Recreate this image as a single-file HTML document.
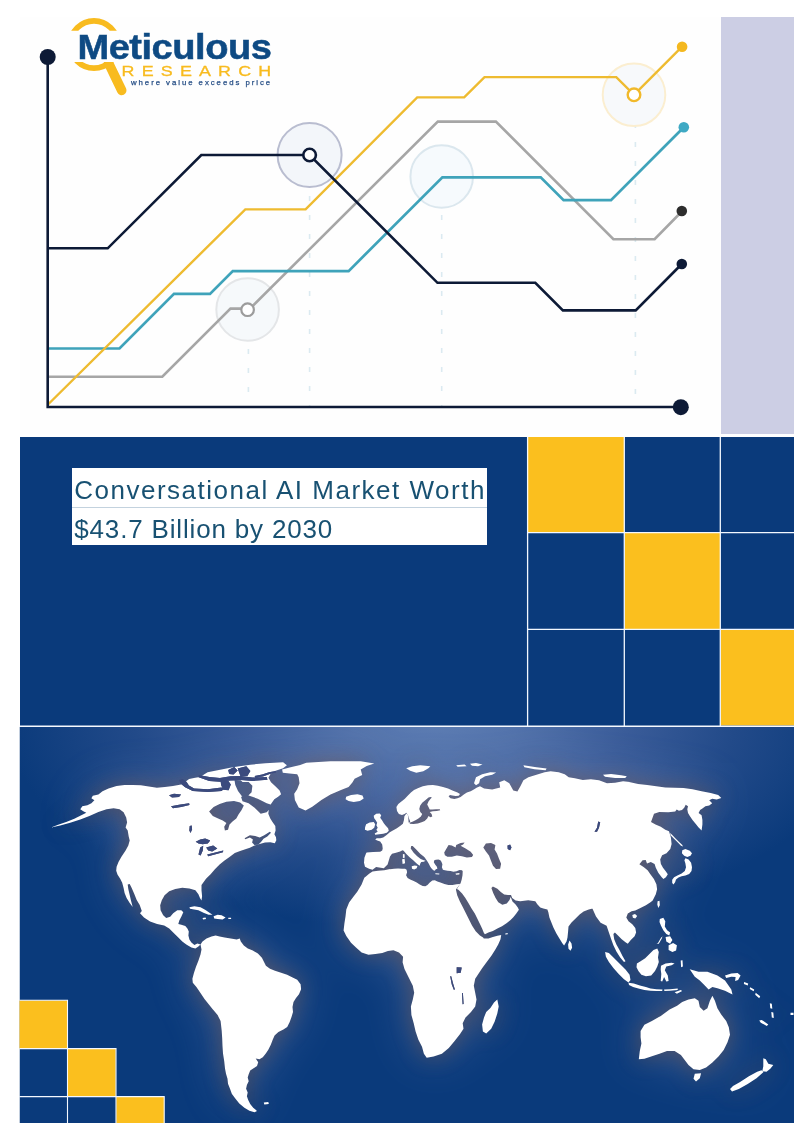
<!DOCTYPE html>
<html lang="en">
<head>
<meta charset="utf-8">
<title>Conversational AI Market Worth $43.7 Billion by 2030</title>
<style>
html,body{margin:0;padding:0;background:#fff;}
body{width:794px;height:1123px;position:relative;overflow:hidden;font-family:"Liberation Sans",sans-serif;}
.abs{position:absolute;}
#chartbg{left:20px;top:17px;width:701px;height:417px;background:#fefefe;}
#lav{left:721px;top:17px;width:73px;height:417px;background:#cccee4;}
#mid{left:20px;top:437px;width:774px;height:289px;background:#0a3a7b;}
#mapbg{left:19.5px;top:727px;width:775px;height:396px;background:#0a3a7b;}
.ttl{position:absolute;left:71.6px;width:415.7px;height:38.4px;background:#fff;color:#185172;font-size:26px;line-height:38px;white-space:nowrap;}
.ttl span{position:absolute;left:2.7px;top:3.2px;}
#sep{left:71.6px;top:506.6px;width:415.7px;height:0.9px;background:#c3d2de;}
svg{position:absolute;left:0;top:0;}
</style>
</head>
<body>
<div class="abs" id="chartbg"></div>
<div class="abs" id="lav"></div>
<div class="abs" id="mid"></div>
<div class="abs" id="mapbg"></div>
<svg width="794" height="1123" viewBox="0 0 794 1123" style="pointer-events:none">
<defs>
<radialGradient id="mg" gradientUnits="userSpaceOnUse" cx="435" cy="716" r="430" gradientTransform="translate(435,716) scale(1,0.5) translate(-435,-716)">
<stop offset="0" stop-color="#5e7eb4"/><stop offset="0.2" stop-color="#5373ab"/><stop offset="0.45" stop-color="#3a5c99"/><stop offset="0.7" stop-color="#224a89"/><stop offset="1" stop-color="#0a3a7b"/>
</radialGradient>
<filter id="glow" x="-10%" y="-10%" width="120%" height="120%"><feGaussianBlur stdDeviation="11"/></filter>
<filter id="glow2" x="-10%" y="-10%" width="120%" height="120%"><feGaussianBlur stdDeviation="24"/></filter>
<clipPath id="mc"><rect x="19.5" y="727" width="774.5" height="396"/></clipPath>
<mask id="lm" maskUnits="userSpaceOnUse" x="0" y="700" width="794" height="423">
<path d="M51.1,827.4 L58.1,824.8 L66.2,822.0 L74.3,818.8 L81.3,815.3 L86.3,812.7 L83.3,811.3 L80.3,809.3 L82.3,806.3 L87.4,805.3 L91.4,803.2 L94.4,800.2 L91.4,798.2 L92.8,795.8 L98.4,794.6 L102.5,791.2 L108.5,788.5 L116.6,786.1 L124.6,785.1 L132.7,784.9 L140.8,785.3 L148.8,786.5 L156.9,787.7 L164.9,787.1 L173.0,786.1 L181.1,784.5 L185.1,782.1 L189.1,779.1 L195.2,777.7 L200.0,777.1 L207.6,772.2 L215.1,770.7 L222.7,769.2 L230.2,767.7 L237.8,766.4 L250.4,764.7 L265.5,763.2 L283.1,762.2 L286.9,765.2 L283.1,768.2 L275.6,770.7 L270.5,774.0 L268.5,777.8 L271.0,782.3 L275.6,786.6 L279.6,790.4 L281.1,794.2 L278.1,796.7 L274.3,799.2 L271.0,804.0 L268.8,809.3 L268.3,813.8 L270.3,818.4 L272.5,822.1 L275.3,825.9 L275.6,830.5 L274.4,834.2 L276.0,837.3 L276.3,840.3 L274.8,843.3 L270.3,842.2 L265.0,842.5 L259.7,844.1 L254.4,845.6 L249.9,847.8 L245.3,849.3 L240.1,850.9 L234.8,853.1 L229.5,856.9 L224.2,860.7 L219.6,864.5 L215.1,869.0 L210.6,874.3 L206.0,878.8 L201.5,884.9 L201.5,890.2 L202.1,896.2 L201.5,900.6 L200.1,898.2 L198.4,894.2 L195.4,890.2 L189.4,888.5 L182.3,887.7 L175.3,889.1 L169.2,891.2 L164.6,895.2 L161.8,900.2 L160.2,905.3 L160.6,910.3 L163.2,915.3 L166.2,918.0 L170.2,916.8 L173.2,913.3 L177.3,910.3 L181.3,910.3 L183.3,912.3 L181.3,916.8 L179.3,920.4 L178.3,924.0 L181.3,924.8 L185.3,926.0 L187.4,928.4 L188.8,931.5 L188.4,935.5 L189.4,939.5 L191.4,942.5 L194.4,945.0 L197.4,943.6 L200.5,944.6 L198.4,946.6 L195.4,948.6 L191.4,947.6 L186.3,944.6 L182.3,941.5 L178.3,937.5 L173.2,932.5 L169.2,928.4 L164.2,925.4 L157.1,924.0 L150.1,921.4 L144.0,917.4 L140.0,913.3 L141.8,911.1 L139.7,905.0 L136.7,900.0 L134.3,893.9 L131.7,887.9 L129.7,883.9 L127.7,884.5 L128.3,888.9 L129.7,894.9 L131.1,901.0 L132.7,907.0 L129.7,903.0 L126.6,898.0 L124.6,892.9 L123.6,887.9 L122.2,882.8 L120.2,878.8 L117.6,874.8 L116.2,870.8 L116.6,866.7 L118.6,861.7 L121.6,856.6 L125.6,850.6 L128.3,845.6 L129.7,840.5 L128.7,836.5 L127.7,830.5 L125.6,827.4 L127.1,822.4 L126.2,817.4 L123.6,812.3 L119.6,809.3 L113.6,808.3 L106.5,809.3 L98.4,811.9 L89.4,815.9 L80.3,819.4 L70.2,822.8 L60.2,825.4Z M306.3,762.8 L330.5,761.3 L360.7,761.3 L374.3,763.6 L366.7,765.9 L360.7,769.6 L362.2,774.9 L354.6,778.7 L352.4,782.5 L348.6,787.0 L341.0,790.1 L330.5,794.6 L321.4,799.9 L312.3,806.7 L305.5,810.5 L298.7,807.4 L294.9,799.9 L294.2,793.8 L297.2,789.3 L299.5,783.2 L298.7,777.2 L297.2,774.2 L289.6,773.4 L282.8,772.7 L282.1,769.6 L289.6,767.4 L300.2,765.1Z M346.1,796.7 L351.1,794.9 L357.4,794.2 L362.5,795.4 L363.7,798.4 L359.9,801.0 L353.7,802.0 L348.6,801.0 L345.6,799.2Z M189.4,907.3 L194.4,906.3 L200.5,907.3 L205.5,909.9 L209.5,912.7 L212.5,914.7 L208.5,914.7 L203.5,912.7 L198.4,910.3 L192.8,909.3 L190.0,908.7Z M213.6,916.3 L217.6,914.7 L221.6,915.3 L225.6,917.4 L222.6,919.4 L217.6,919.0 L214.2,918.4Z M202.5,918.0 L205.5,917.6 L206.1,919.0 L203.1,919.4Z M228.3,917.8 L231.1,917.8 L231.1,919.0 L228.3,919.0Z M200.5,944.6 L202.5,941.5 L206.5,938.5 L211.5,936.5 L215.6,935.5 L219.6,936.5 L224.6,937.5 L230.7,938.5 L236.7,939.5 L239.7,938.5 L240.8,941.5 L243.8,945.6 L247.8,948.6 L252.8,950.6 L257.9,953.6 L261.9,957.7 L263.9,961.7 L265.9,965.7 L270.0,968.7 L275.0,970.8 L281.1,972.8 L287.1,974.8 L293.1,977.8 L297.2,979.8 L300.6,984.2 L301.1,989.3 L299.0,994.3 L296.0,998.1 L293.5,1001.9 L292.5,1006.9 L293.0,1011.9 L291.5,1017.0 L289.7,1022.0 L287.2,1027.1 L283.4,1029.6 L278.4,1032.1 L274.6,1035.4 L272.8,1039.6 L270.8,1044.7 L268.3,1049.7 L265.8,1053.5 L262.8,1057.3 L259.5,1059.3 L255.7,1058.5 L258.2,1062.3 L257.0,1066.1 L253.2,1068.6 L250.2,1070.6 L248.7,1074.2 L247.7,1077.4 L248.7,1081.2 L246.9,1085.0 L246.1,1088.8 L247.7,1092.5 L246.9,1096.3 L248.2,1100.1 L250.2,1103.9 L253.2,1107.7 L257.0,1110.9 L254.5,1112.2 L249.4,1110.7 L244.4,1107.7 L239.3,1103.4 L235.1,1098.3 L231.8,1093.8 L230.0,1088.8 L228.0,1083.7 L227.5,1078.7 L226.0,1073.7 L225.0,1068.6 L224.2,1061.1 L223.0,1053.5 L222.5,1045.9 L222.2,1038.4 L221.7,1030.8 L220.6,1021.1 L217.6,1015.1 L212.5,1009.0 L208.5,1004.0 L204.5,999.0 L200.5,992.9 L196.4,986.9 L192.8,982.8 L192.4,978.8 L194.0,972.8 L196.0,966.7 L198.4,960.7 L200.5,954.6 L201.5,949.6Z M263.8,1102.4 L268.3,1101.9 L268.8,1103.9 L264.3,1104.4Z M365.6,876.8 L369.1,873.8 L372.5,871.4 L378.1,870.8 L384.2,870.2 L390.2,869.1 L390.0,869.3 L394.0,868.8 L398.1,868.6 L402.1,868.8 L405.1,868.8 L406.6,869.8 L407.1,872.3 L406.1,875.3 L407.6,877.9 L410.2,879.4 L413.7,880.9 L416.7,882.4 L419.7,884.4 L422.7,885.9 L425.3,886.2 L427.5,884.9 L429.8,882.4 L432.3,880.4 L434.8,880.2 L437.4,881.4 L440.4,882.4 L444.4,883.9 L448.4,884.9 L452.5,884.9 L456.5,884.2 L459.5,883.9 L460.5,883.4 L455.9,889.6 L457.2,895.3 L459.9,901.4 L463.0,907.4 L466.0,913.5 L469.0,919.5 L472.0,925.6 L475.7,931.3 L479.9,935.4 L483.1,937.4 L483.8,938.4 L488.4,938.4 L492.9,936.9 L497.4,935.8 L501.2,934.9 L500.5,939.2 L498.2,944.5 L495.2,949.7 L491.4,955.8 L486.9,961.8 L482.3,967.9 L475.2,978.8 L473.8,985.8 L475.2,992.7 L476.5,999.6 L475.2,1006.5 L471.0,1012.1 L465.5,1017.6 L462.7,1023.2 L463.5,1028.7 L459.9,1034.3 L454.4,1041.2 L448.8,1048.1 L441.9,1053.7 L433.6,1056.4 L426.7,1057.8 L423.9,1053.7 L422.0,1046.7 L418.4,1039.8 L415.6,1031.5 L413.7,1023.2 L411.4,1014.9 L410.9,1006.5 L412.8,999.6 L414.2,992.7 L412.8,985.8 L408.7,977.5 L404.5,969.1 L402.6,962.2 L403.1,956.7 L399.0,952.5 L393.4,950.3 L387.9,951.1 L382.3,953.1 L375.4,953.9 L368.5,954.7 L361.6,952.5 L356.0,947.5 L351.0,942.8 L346.3,935.9 L343.6,930.4 L344.4,923.4 L345.5,916.5 L346.3,909.6 L349.1,902.6 L353.2,897.1 L357.4,891.6 L361.6,884.6 L364.3,877.7Z M497.3,999.6 L498.7,1006.5 L497.3,1013.5 L494.6,1021.8 L491.2,1028.7 L486.2,1033.4 L482.9,1031.5 L482.1,1024.6 L484.0,1017.6 L486.2,1012.1 L490.4,1007.9 L494.0,1002.4Z M372.5,869.7 L369.1,868.7 L365.0,866.7 L364.0,862.7 L364.4,857.7 L366.0,853.6 L366.6,852.5 L373.2,852.0 L380.2,851.7 L382.2,850.5 L382.7,848.4 L382.2,844.4 L380.2,841.4 L377.2,840.4 L375.2,839.4 L376.7,838.2 L380.2,838.2 L383.2,837.4 L386.3,835.3 L389.8,832.3 L393.3,830.3 L396.9,828.3 L400.4,825.8 L402.9,823.8 L403.9,820.2 L404.4,816.2 L406.4,813.4 L407.9,815.2 L408.4,819.2 L408.6,822.4 L410.2,822.6 L410.0,820.9 L409.0,818.4 L408.0,815.3 L406.4,812.7 L404.6,814.0 L402.0,815.0 L398.9,814.0 L397.0,810.9 L396.4,807.1 L398.3,803.9 L401.4,801.4 L404.6,798.9 L407.7,795.7 L410.9,792.6 L414.0,790.1 L417.8,788.2 L422.8,786.3 L427.9,785.3 L432.9,785.0 L437.9,785.7 L443.0,786.9 L448.0,788.6 L453.0,790.7 L457.5,792.6 L460.0,793.9 L458.7,795.7 L455.6,796.1 L452.4,795.4 L449.9,794.9 L448.6,796.4 L450.5,798.3 L454.3,798.9 L457.5,798.3 L460.6,797.0 L463.8,794.5 L466.9,792.6 L470.7,791.3 L473.8,789.4 L477.0,787.6 L480.0,786.3 L484.1,788.4 L492.2,789.4 L500.2,787.4 L499.2,782.3 L504.3,780.3 L509.3,783.3 L513.3,790.4 L517.4,791.4 L520.4,786.3 L523.4,780.3 L528.4,777.3 L536.5,774.7 L544.6,772.2 L550.6,771.2 L558.7,772.2 L564.7,774.3 L568.7,777.3 L574.8,778.3 L582.8,779.9 L590.9,779.3 L599.0,780.3 L607.0,783.3 L615.1,782.7 L623.1,781.3 L630.0,781.9 L629.1,782.1 L638.1,783.9 L647.2,785.1 L656.3,786.3 L665.3,787.4 L674.4,787.8 L683.5,788.1 L692.5,789.3 L701.6,791.2 L710.7,793.0 L718.2,794.9 L721.3,798.0 L716.7,799.5 L712.2,798.7 L709.2,800.2 L712.2,803.2 L709.2,805.5 L705.4,806.3 L702.4,808.5 L700.1,810.1 L698.6,813.1 L701.6,815.3 L702.4,819.9 L702.4,824.4 L701.6,830.5 L698.6,827.4 L695.6,823.7 L692.5,819.9 L689.8,816.1 L688.0,813.1 L687.3,809.3 L688.0,806.3 L685.7,804.8 L684.2,807.8 L682.0,810.1 L678.9,810.8 L676.7,809.6 L675.2,811.6 L668.4,812.3 L659.3,812.0 L654.0,813.8 L651.0,822.1 L655.5,824.4 L660.8,826.7 L665.3,829.7 L669.0,831.3 L670.9,837.6 L671.6,843.9 L670.3,848.9 L666.5,853.3 L662.1,855.2 L660.2,859.6 L660.9,864.0 L663.0,867.8 L665.9,871.6 L667.8,874.3 L665.9,877.2 L663.4,878.9 L661.5,876.9 L658.3,872.8 L655.8,867.8 L654.6,864.0 L650.8,862.1 L647.0,863.4 L645.7,860.0 L642.6,860.2 L639.4,864.3 L643.9,867.2 L647.6,870.3 L650.2,874.1 L653.9,879.1 L656.4,884.2 L657.1,889.2 L655.8,894.2 L652.7,900.5 L650.5,902.3 L645.9,905.3 L639.9,908.3 L635.3,910.6 L631.6,911.3 L627.8,913.6 L626.3,917.4 L628.5,921.2 L632.3,924.2 L635.3,928.0 L636.1,932.5 L634.6,936.3 L630.8,940.1 L627.8,943.8 L625.5,942.3 L621.7,939.3 L618.0,935.5 L614.9,932.5 L613.4,934.0 L614.2,939.3 L616.4,944.6 L619.5,949.9 L622.5,955.9 L625.5,961.2 L624.0,962.0 L620.2,957.4 L616.4,951.4 L613.4,945.3 L611.2,939.3 L608.9,932.5 L606.6,925.7 L605.1,924.9 L600.6,922.7 L596.0,916.6 L592.3,908.3 L592.7,908.4 L588.7,909.4 L583.6,911.4 L579.6,914.4 L575.6,918.4 L571.5,922.5 L568.5,926.5 L568.1,931.5 L567.5,937.6 L566.5,941.6 L564.1,945.6 L562.5,943.6 L559.4,938.6 L556.4,933.6 L553.4,927.5 L551.4,922.5 L549.4,917.4 L548.4,912.4 L547.4,909.4 L543.3,908.4 L540.3,907.4 L537.3,904.3 L535.3,901.3 L528.2,900.3 L520.2,901.3 L514.1,900.3 L515.6,900.6 L512.2,898.1 L511.0,895.0 L508.0,895.0 L504.2,894.4 L500.8,892.0 L497.4,888.7 L492.9,886.6 L491.4,888.1 L493.2,893.1 L495.6,898.1 L498.3,902.3 L502.3,904.7 L506.8,903.5 L509.5,899.9 L510.7,896.9 L512.5,901.4 L515.6,904.4 L517.8,907.4 L518.9,909.7 L516.3,913.5 L513.3,917.3 L510.3,920.3 L506.5,923.3 L502.0,926.3 L497.4,928.6 L492.9,930.9 L488.4,932.4 L484.9,934.3 L483.8,932.8 L482.3,928.9 L480.2,924.4 L477.5,918.9 L474.8,913.5 L471.4,908.2 L468.4,902.9 L465.2,897.8 L462.1,893.4 L458.4,889.7 L456.9,889.0 L460.5,883.4 L461.7,879.4 L462.5,875.3 L462.7,871.3 L462.0,870.3 L459.5,870.1 L456.5,871.3 L453.5,871.8 L450.5,871.1 L447.4,870.8 L444.9,870.3 L442.9,869.8 L441.9,867.3 L442.4,864.3 L441.4,861.7 L440.4,860.2 L438.4,859.4 L435.8,859.7 L434.3,860.2 L433.8,862.2 L435.3,864.8 L436.9,866.8 L437.4,868.8 L435.8,869.3 L434.8,870.8 L433.3,870.3 L431.8,868.8 L430.3,866.8 L428.8,863.8 L427.3,861.2 L426.1,859.4 L424.3,857.0 L420.2,853.7 L416.2,849.6 L412.7,846.1 L411.2,846.1 L410.7,848.6 L413.7,852.7 L417.2,856.2 L420.7,858.9 L423.8,860.2 L425.5,860.7 L423.8,861.7 L421.2,862.0 L420.2,863.8 L419.7,865.8 L418.2,864.8 L416.4,863.2 L413.2,860.2 L409.6,857.2 L406.1,853.7 L403.6,850.7 L402.6,850.2 L400.1,851.5 L396.0,852.7 L392.0,853.7 L390.0,856.4 L387.6,864.4 L383.8,868.2 L376.1,867.1Z M474.0,783.3 L476.0,777.3 L482.1,774.3 L490.2,772.2 L496.2,772.6 L492.2,774.7 L485.1,776.3 L480.1,779.3 L479.1,783.3 L476.0,785.3Z M523.4,765.2 L536.5,767.2 L546.6,768.6 L545.6,770.2 L534.5,769.2 L524.4,767.2Z M470.0,763.8 L476.0,763.0 L482.5,764.6 L478.1,766.2 L472.0,765.8Z M603.0,774.7 L611.1,773.9 L621.1,775.3 L626.8,776.3 L625.2,777.9 L615.1,777.9 L605.0,776.7Z M373.7,815.7 L376.2,813.7 L379.7,813.4 L381.2,815.2 L380.2,817.7 L382.0,820.2 L383.8,823.2 L385.8,825.8 L388.1,828.3 L388.8,830.8 L386.8,832.8 L383.2,833.8 L379.2,834.3 L375.2,834.8 L374.7,833.5 L377.7,831.8 L376.4,829.8 L377.7,827.8 L376.4,825.3 L377.2,822.7 L375.7,820.2 L374.2,818.2Z M365.1,827.3 L366.1,824.3 L369.6,822.4 L373.7,822.0 L375.2,824.3 L374.2,827.8 L371.7,829.8 L367.6,830.8 L364.9,829.8Z M402.1,859.2 L404.6,858.7 L405.1,863.2 L402.6,864.1Z M402.9,854.0 L404.6,854.2 L404.7,857.7 L402.9,858.0Z M411.7,866.3 L414.7,865.5 L417.4,866.1 L416.7,868.3 L414.2,869.5 L412.0,868.8Z M435.3,873.3 L439.4,873.6 L439.2,874.5 L435.5,874.3Z M455.5,873.5 L459.5,873.1 L459.3,874.5 L456.0,874.8Z M682.3,850.2 L685.4,848.9 L689.8,850.8 L692.0,853.3 L690.5,855.8 L687.3,857.1 L684.2,855.8 L681.9,853.3Z M685.4,858.3 L688.6,859.6 L691.1,862.7 L692.0,867.2 L691.5,870.9 L689.2,874.1 L685.4,875.6 L681.6,876.3 L678.5,877.6 L676.0,879.4 L675.1,882.3 L673.5,884.4 L672.2,882.9 L672.2,879.7 L674.1,877.2 L677.9,875.3 L681.6,873.5 L684.8,870.9 L686.0,867.2 L685.4,863.4 L684.4,860.2Z M657.6,901.2 L659.5,900.8 L659.8,905.3 L658.3,907.9 L657.3,904.5Z M670.1,833.1 L671.8,834.4 L675.3,838.2 L679.1,842.0 L682.3,845.1 L682.9,846.6 L681.0,845.7 L677.6,842.3 L673.8,838.6 L670.6,835.3Z M569.5,940.6 L571.5,943.6 L572.1,947.7 L570.5,950.7 L568.5,948.7 L568.1,944.6Z M632.3,915.1 L635.0,913.9 L637.2,915.9 L635.3,918.4 L632.9,917.8Z M605.1,952.1 L608.9,952.9 L614.2,958.2 L620.2,964.2 L625.5,969.5 L629.6,974.8 L630.5,980.1 L628.5,982.4 L624.0,979.3 L618.7,974.1 L613.4,968.0 L608.9,962.0 L605.9,956.7Z M628.5,982.8 L633.8,983.4 L639.9,985.4 L645.9,986.9 L650.5,988.4 L656.5,989.2 L662.5,989.5 L662.2,991.0 L656.5,991.1 L650.5,990.7 L644.4,989.9 L638.4,988.4 L633.1,986.9 L629.0,984.9Z M636.9,963.5 L640.6,961.2 L645.2,958.2 L649.7,953.7 L653.5,949.9 L657.3,948.4 L658.8,952.1 L658.0,957.4 L658.8,962.0 L657.3,966.5 L655.0,971.0 L651.2,975.6 L645.9,976.3 L641.4,974.8 L638.4,971.0 L636.5,967.3Z M661.0,965.7 L665.6,963.5 L671.6,962.7 L674.6,963.5 L671.6,965.3 L666.3,966.5 L664.8,970.3 L667.8,975.6 L668.6,980.9 L666.3,981.6 L664.1,977.1 L662.2,981.6 L660.7,980.9 L661.3,974.1 L660.7,969.5Z M659.8,918.9 L663.3,917.8 L665.3,921.2 L664.8,926.4 L667.1,930.2 L670.1,932.5 L669.3,935.5 L666.3,934.0 L663.3,930.2 L661.0,925.7 L659.5,921.9Z M668.6,945.3 L673.1,943.1 L676.9,945.3 L676.1,950.6 L672.4,952.1 L668.6,949.9Z M665.6,937.0 L670.1,936.3 L672.4,940.1 L670.1,943.8 L666.3,941.6Z M689.7,969.3 L698.5,971.8 L707.4,971.8 L717.4,975.6 L725.0,980.6 L731.3,989.4 L732.5,994.5 L725.0,990.7 L717.4,988.2 L712.4,986.9 L708.6,989.4 L704.8,985.6 L699.8,980.6 L694.8,976.8Z M640.6,1031.0 L644.4,1024.7 L651.9,1020.9 L660.8,1015.9 L669.6,1009.6 L677.1,1005.8 L682.2,1002.0 L688.5,999.5 L694.8,998.2 L698.5,1000.8 L699.8,1007.1 L703.6,1010.8 L707.4,1008.3 L709.9,1000.8 L712.4,995.7 L714.9,1000.8 L717.4,1008.3 L721.2,1014.6 L726.2,1020.9 L728.8,1027.2 L730.0,1034.8 L727.5,1042.3 L723.7,1049.9 L718.7,1056.2 L712.4,1062.5 L706.1,1067.5 L699.8,1070.0 L693.5,1069.3 L688.5,1065.0 L684.7,1059.9 L680.9,1054.9 L674.6,1051.1 L667.0,1051.1 L659.5,1053.7 L651.9,1056.2 L644.4,1058.7 L638.8,1059.2 L639.8,1051.1 L641.4,1043.6 L640.6,1037.3Z M694.8,1073.8 L701.1,1073.3 L699.8,1078.3 L696.0,1081.4 L693.5,1078.8Z M763.3,1058.2 L765.8,1059.2 L768.3,1063.7 L773.3,1065.0 L770.3,1068.8 L766.5,1071.8 L762.3,1071.3 L763.3,1066.2Z M763.3,1072.3 L756.5,1078.3 L747.7,1083.9 L738.8,1088.9 L732.0,1091.4 L730.0,1088.9 L733.0,1085.9 L740.1,1081.9 L748.9,1076.3 L757.2,1071.8 L761.5,1070.3Z M656.5,943.8 L658.0,943.1 L661.0,937.8 L662.5,936.3 L661.8,938.5 L658.8,943.8Z M664.1,989.5 L670.1,989.2 L677.7,988.4 L677.7,989.9 L670.1,990.7 L664.4,991.0Z M674.6,992.2 L680.7,989.9 L682.2,991.1 L676.9,993.7Z M680.7,960.5 L682.5,960.2 L682.9,966.5 L681.1,967.3Z M406.2,768.2 L412.2,766.2 L420.3,765.2 L430.4,766.2 L428.4,768.2 L423.3,771.2 L416.3,772.8 L410.2,770.8Z M456.2,765.2 L464.6,764.5 L466.6,766.2 L457.6,766.8Z M725.0,975.6 L731.3,973.6 L737.6,973.0 L740.6,975.6 L738.1,980.1 L735.1,981.1 L735.6,977.1 L731.3,976.8 L726.2,978.1Z M744.1,982.1 L748.2,983.6 L747.7,985.6 L743.9,984.1Z M750.2,987.2 L754.2,989.4 L753.7,991.2 L749.7,988.9Z M755.7,992.7 L760.2,996.2 L759.2,998.2 L755.2,994.7Z M769.8,1003.3 L771.8,1003.8 L772.3,1008.8 L770.3,1008.3Z M771.3,1012.1 L773.3,1012.6 L773.8,1017.9 L771.8,1017.4Z M759.2,1020.4 L761.8,1019.9 L768.3,1024.4 L766.8,1025.9 L760.8,1022.7Z M790.5,1012.8 L793.5,1012.8 L793.5,1014.9 L790.5,1014.9Z M505.3,933.4 L507.7,933.1 L507.7,934.3 L505.3,934.6Z" fill="#fff"/>
<path d="M209.1,811.6 L213.6,807.0 L219.6,804.0 L226.4,801.7 L234.0,801.0 L240.1,802.5 L243.8,805.5 L241.6,810.1 L238.5,814.6 L236.3,818.4 L232.5,821.4 L229.5,824.4 L228.0,829.7 L224.9,830.5 L224.2,826.7 L226.4,822.9 L222.7,820.6 L218.1,818.4 L212.8,816.1Z M244.6,838.3 L249.9,835.3 L255.2,836.0 L259.7,837.6 L264.2,835.3 L269.8,831.7 L271.0,832.7 L267.3,836.5 L263.5,838.8 L261.2,841.8 L258.2,844.8 L254.4,845.1 L252.1,842.5 L252.9,839.5 L249.9,837.6 L245.3,839.2Z M444.2,852.4 L446.8,848.0 L448.6,844.9 L451.8,845.5 L455.6,847.4 L456.2,844.9 L460.6,843.0 L464.6,842.6 L463.1,844.5 L460.6,845.7 L465.6,848.6 L470.7,851.8 L473.2,854.9 L471.9,857.1 L466.9,857.5 L461.9,856.2 L456.8,855.6 L451.8,856.8 L447.4,856.8 L444.9,855.3Z M483.3,847.6 L485.9,843.6 L491.0,842.9 L495.4,845.0 L494.6,849.6 L497.0,853.6 L499.0,858.7 L501.1,863.7 L500.1,868.7 L496.0,869.1 L493.0,865.7 L491.0,860.7 L489.0,855.6 L485.9,851.6Z M507.5,845.6 L510.1,844.6 L511.5,847.6 L510.1,850.2 L507.7,849.0Z M598.2,821.6 L600.2,822.2 L599.0,827.7 L597.0,831.7 L594.5,831.7 L597.0,827.7Z M430.4,797.0 L428.5,797.6 L425.3,800.2 L422.2,802.7 L420.1,805.8 L419.3,809.0 L420.3,812.1 L422.2,814.0 L420.9,816.5 L418.4,818.4 L415.9,820.1 L413.0,821.6 L410.2,822.6 L409.6,823.8 L413.4,824.1 L417.8,823.5 L421.6,822.2 L424.7,820.9 L427.2,818.4 L428.5,815.9 L430.4,817.2 L432.3,816.5 L431.6,814.0 L429.7,812.1 L432.9,811.2 L436.7,810.9 L440.2,810.2 L439.8,809.2 L436.0,809.2 L432.3,809.6 L429.7,809.6 L428.5,807.1 L427.2,804.6 L428.5,801.4 L430.4,798.9 L431.9,797.4Z M179.1,780.1 L182.8,779.0 L186.6,782.0 L188.9,785.5 L194.2,788.4 L207.8,789.3 L221.4,787.6 L223.8,788.8 L221.7,790.9 L207.8,792.0 L192.7,791.1 L185.1,787.3 L180.6,783.5Z M198.7,774.9 L209.3,777.0 L219.9,777.9 L230.5,776.3 L241.0,776.1 L252.4,777.6 L266.7,777.0 L267.5,779.8 L252.4,781.0 L241.0,780.1 L230.5,780.4 L219.9,781.7 L209.3,781.0 L198.7,777.3Z M234.2,778.6 L238.8,777.9 L242.5,782.0 L248.6,782.0 L252.4,785.8 L251.6,792.2 L247.8,796.1 L242.5,797.1 L238.0,791.1 L235.3,785.1Z M241.0,796.7 L248.6,795.6 L257.7,798.7 L266.7,803.2 L275.8,806.2 L275.8,810.0 L269.0,809.7 L266.7,812.3 L260.7,813.8 L256.9,810.0 L254.6,807.7 L248.6,803.2 L242.5,801.2Z M228.2,769.9 L234.2,767.1 L237.7,770.4 L233.5,774.6 L229.2,774.0Z M220.6,780.7 L227.4,779.5 L230.8,784.6 L228.6,790.3 L223.2,789.7 L221.1,784.9Z M237.7,768.6 L246.3,766.2 L250.4,771.0 L247.4,776.1 L240.4,776.1Z M254.6,776.0 L262.2,774.5 L269.0,772.2 L275.8,771.0 L276.1,772.5 L269.7,774.0 L262.9,776.4 L255.4,777.5Z M195.7,841.7 L200.2,839.5 L205.2,838.5 L210.2,840.5 L207.8,843.4 L202.6,844.2 L198.5,843.6Z M200.2,847.6 L203.2,845.8 L202.8,850.6 L200.6,855.6 L198.5,854.6Z M206.2,847.6 L213.2,845.6 L217.3,848.6 L212.2,851.6 L208.2,850.6Z M207.2,854.6 L215.3,852.6 L223.3,850.6 L222.9,852.2 L214.7,854.6 L208.2,856.2Z M189.7,826.0 L191.7,825.4 L192.1,829.4 L190.5,832.9 L189.3,830.5Z M169.0,795.2 L174.0,793.8 L181.1,794.6 L179.0,797.0 L172.0,797.4Z M171.0,806.3 L179.0,804.7 L189.1,803.2 L189.5,804.9 L181.1,806.9 L173.0,808.3Z M456.7,967.2 L461.7,967.4 L460.7,972.7 L456.7,973.2Z M450.2,976.3 L451.2,976.3 L453.0,983.3 L454.9,989.4 L453.8,989.7 L451.7,984.3Z M462.0,992.9 L462.9,992.9 L463.6,1004.0 L462.6,1004.3Z" fill="#000"/>
</mask>
</defs>
<g clip-path="url(#mc)">
<rect x="19.5" y="727" width="774.5" height="396" fill="url(#mg)"/>
<g filter="url(#glow2)" opacity="0.32"><rect x="0" y="700" width="794" height="423" fill="#aeb2da" mask="url(#lm)"/></g>
<g filter="url(#glow)" opacity="0.58"><rect x="0" y="700" width="794" height="423" fill="#705248" mask="url(#lm)"/></g>
<rect x="0" y="700" width="794" height="423" fill="#fff" mask="url(#lm)"/>
<path d="M456.7,967.2 L461.7,967.4 L460.7,972.7 L456.7,973.2Z M450.2,976.3 L451.2,976.3 L453.0,983.3 L454.9,989.4 L453.8,989.7 L451.7,984.3Z M462.0,992.9 L462.9,992.9 L463.6,1004.0 L462.6,1004.3Z M598.2,821.6 L600.2,822.2 L599.0,827.7 L597.0,831.7 L594.5,831.7 L597.0,827.7Z M507.5,845.6 L510.1,844.6 L511.5,847.6 L510.1,850.2 L507.7,849.0Z M195.7,841.7 L200.2,839.5 L205.2,838.5 L210.2,840.5 L207.8,843.4 L202.6,844.2 L198.5,843.6Z M200.2,847.6 L203.2,845.8 L202.8,850.6 L200.6,855.6 L198.5,854.6Z M206.2,847.6 L213.2,845.6 L217.3,848.6 L212.2,851.6 L208.2,850.6Z M207.2,854.6 L215.3,852.6 L223.3,850.6 L222.9,852.2 L214.7,854.6 L208.2,856.2Z M189.7,826.0 L191.7,825.4 L192.1,829.4 L190.5,832.9 L189.3,830.5Z M169.0,795.2 L174.0,793.8 L181.1,794.6 L179.0,797.0 L172.0,797.4Z M171.0,806.3 L179.0,804.7 L189.1,803.2 L189.5,804.9 L181.1,806.9 L173.0,808.3Z M228.2,769.9 L234.2,767.1 L237.7,770.4 L233.5,774.6 L229.2,774.0Z M220.6,780.7 L227.4,779.5 L230.8,784.6 L228.6,790.3 L223.2,789.7 L221.1,784.9Z M237.7,768.6 L246.3,766.2 L250.4,771.0 L247.4,776.1 L240.4,776.1Z M179.1,780.1 L182.8,779.0 L186.6,782.0 L188.9,785.5 L194.2,788.4 L207.8,789.3 L221.4,787.6 L223.8,788.8 L221.7,790.9 L207.8,792.0 L192.7,791.1 L185.1,787.3 L180.6,783.5Z M198.7,774.9 L209.3,777.0 L219.9,777.9 L230.5,776.3 L241.0,776.1 L252.4,777.6 L266.7,777.0 L267.5,779.8 L252.4,781.0 L241.0,780.1 L230.5,780.4 L219.9,781.7 L209.3,781.0 L198.7,777.3Z M254.6,776.0 L262.2,774.5 L269.0,772.2 L275.8,771.0 L276.1,772.5 L269.7,774.0 L262.9,776.4 L255.4,777.5Z" fill="#3b4a7e"/>
</g>
</svg>
<svg width="794" height="1123" viewBox="0 0 794 1123" style="pointer-events:none">
<g fill="none" stroke-linejoin="miter" stroke-linecap="butt">
<!-- dashed guides -->
<g stroke="#dbeaf1" stroke-width="1.6" stroke-dasharray="5 14">
<line x1="248.4" y1="330" x2="248.4" y2="406"/>
<line x1="309.6" y1="177" x2="309.6" y2="406"/>
<line x1="441.7" y1="196" x2="441.7" y2="406"/>
<line x1="635.4" y1="104" x2="635.4" y2="406"/>
</g>
<!-- halos -->
<circle cx="309.6" cy="155" r="32" fill="#f3f6fa" stroke="#b9bdd0" stroke-width="2"/>
<circle cx="247.6" cy="309.5" r="31.3" fill="#f6f9fb" stroke="#e4e6e8" stroke-width="2"/>
<circle cx="441.7" cy="176.5" r="31.3" fill="#f6fafd" stroke="#dbe7ee" stroke-width="2"/>
<circle cx="634" cy="94.8" r="31.3" fill="#f7f9fb" stroke="#fbeed0" stroke-width="2"/>
<!-- gray -->
<polyline stroke="#a6a6a6" stroke-width="2.6" points="48,376.7 162.3,376.7 230.5,308.6 250,308.6 437.8,121.6 495.9,121.6 613.4,239.2 654.6,239.2 681.8,211.5"/>
<!-- teal -->
<polyline stroke="#3fa3ba" stroke-width="2.7" points="48,348.5 119.5,348.5 174,293.9 210,293.9 232.8,271.1 348.6,271.1 442.4,177.3 540.7,177.3 563.6,200.1 611,200.1 683.8,127.3"/>
<!-- yellow -->
<polyline stroke="#eebb30" stroke-width="2.4" points="48,404.5 245.3,209.4 305.6,209.4 417.2,97.4 464.2,97.4 484.5,77.1 616.3,77.1 634,94.8 682.1,46.7"/>
<!-- dark -->
<polyline stroke="#0d1a36" stroke-width="2.6" points="48,248.3 107.7,248.3 201.3,155 309.6,155 437.5,282.8 535.3,282.8 562.9,310.4 635.7,310.4 681.8,264"/>
<!-- axes -->
<polyline stroke="#0d1a36" stroke-width="2.6" points="47.7,57 47.7,407 681,407"/>
</g>
<circle cx="47.7" cy="57" r="8" fill="#0d1a36"/>
<circle cx="680.8" cy="407.2" r="8" fill="#0d1a36"/>
<circle cx="681.8" cy="264" r="5.3" fill="#0d1a36"/>
<circle cx="681.8" cy="211" r="5.3" fill="#2d2d2d"/>
<circle cx="683.8" cy="127.3" r="5.3" fill="#3fa9c4"/>
<circle cx="682.1" cy="46.7" r="5.3" fill="#f4b81f"/>
<circle cx="309.6" cy="155" r="6.3" fill="#fff" stroke="#0d1a36" stroke-width="2.6"/>
<circle cx="247.6" cy="309.7" r="6.3" fill="#fff" stroke="#9c9c9c" stroke-width="2.2"/>
<circle cx="634" cy="94.8" r="6.3" fill="#fff" stroke="#f1b92a" stroke-width="2.4"/>
</svg>

<svg width="794" height="1123" viewBox="0 0 794 1123" style="pointer-events:none">
<defs>
<clipPath id="lgc"><path d="M60,10 H140 V30.7 H60 Z M60,61.9 H140 V100 H60 Z"/></clipPath>
</defs>
<g clip-path="url(#lgc)">
<circle cx="94" cy="44.5" r="23.65" fill="none" stroke="#f8bb1f" stroke-width="5.7"/>
<line x1="108.5" y1="63" x2="121.7" y2="90.4" stroke="#f8bb1f" stroke-width="9.6" stroke-linecap="round"/>
</g>
<text transform="translate(77.4,59.4) scale(1.082,1)" font-family="'Liberation Sans',sans-serif" font-weight="700" font-size="35.2" letter-spacing="-0.45" fill="#0e4a83" stroke="#0e4a83" stroke-width="0.5">Meticulous</text>
<text transform="translate(121.6,76.4) scale(1.25,1)" font-family="'Liberation Sans',sans-serif" font-size="14.3" letter-spacing="5.75" fill="#f8bb1f" stroke="#f8bb1f" stroke-width="0.3">RESEARCH</text>
<text x="131" y="84.9" font-family="'Liberation Sans',sans-serif" font-size="7.8" letter-spacing="1.95" fill="#274f86" stroke="#274f86" stroke-width="0.25">where value exceeds price</text>
</svg>

<svg width="794" height="1123" viewBox="0 0 794 1123" style="pointer-events:none" shape-rendering="auto">
<!-- right checker -->
<rect x="528" y="437" width="96" height="95.5" fill="#fbbf1e"/>
<rect x="624.8" y="533" width="95.2" height="96" fill="#fbbf1e"/>
<rect x="720.8" y="629.8" width="73.2" height="95.7" fill="#fbbf1e"/>
<g stroke="#f4f8ff" stroke-width="1.3" fill="none">
<line x1="527.6" y1="437" x2="527.6" y2="726"/>
<line x1="624.3" y1="437" x2="624.3" y2="726"/>
<line x1="720.3" y1="437" x2="720.3" y2="726"/>
<line x1="527.6" y1="532.6" x2="794" y2="532.6"/>
<line x1="527.6" y1="629.3" x2="794" y2="629.3"/>
<line x1="19.5" y1="726.2" x2="794" y2="726.2"/>
</g>
<!-- bottom-left stairs -->
<rect x="19.5" y="1000.3" width="48" height="48.3" fill="#fbbf1e"/>
<rect x="67.8" y="1048.8" width="48" height="47.8" fill="#fbbf1e"/>
<rect x="116.2" y="1096.8" width="48" height="27" fill="#fbbf1e"/>
<g stroke="#f4f8ff" stroke-width="1.1" fill="none">
<polyline points="19.5,1000.3 67.5,1000.3 67.5,1123"/>
<polyline points="19.5,1048.6 116,1048.6 116,1123"/>
<polyline points="19.5,1096.6 164.2,1096.6 164.2,1123"/>
</g>
</svg>

<div class="ttl" id="t1" style="top:468.1px;"><span style="letter-spacing:1.5px">Conversational AI Market Worth</span></div>
<div class="ttl" id="t2" style="top:506.4px;"><span style="letter-spacing:0.83px">$43.7 Billion by 2030</span></div>
<div class="abs" id="sep"></div>
</body>
</html>
